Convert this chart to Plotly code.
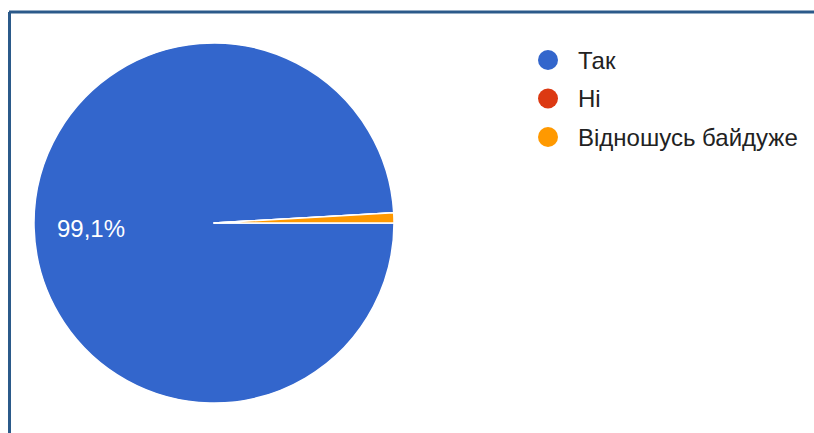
import plotly.graph_objects as go

# Survey answers
labels = ["Так", "Ні", "Відношусь байдуже"]
counts = [110, 0, 1]
colors = ["#3366cc", "#dc3912", "#ff9900"]

W, H = 814, 433
font_family = "Liberation Sans, Arial, sans-serif"

total = sum(counts)
main_pct = f"{counts[0] / total * 100:.1f}%".replace(".", ",")

fig = go.Figure()

fig.add_trace(go.Pie(
    labels=labels,
    values=counts,
    sort=False,
    direction="clockwise",
    rotation=90,
    marker=dict(colors=colors, line=dict(color="white", width=1.5)),
    textinfo="none",
    hoverinfo="label+percent",
    showlegend=False,
    domain=dict(x=[34 / W, 394 / W], y=[(H - 403) / H, (H - 43) / H]),
))

shapes = []
annotations = []

# Percentage label on the large slice
annotations.append(dict(
    x=91 / W, y=(H - 228) / H, xref="paper", yref="paper",
    text=main_pct, showarrow=False, xanchor="center", yanchor="middle",
    font=dict(size=24, color="white", family=font_family),
))

# Legend: coloured dots with labels
legend_x = 548
legend_y0 = 60
legend_step = 38.5
for i, (lab, col) in enumerate(zip(labels, colors)):
    cy = legend_y0 + i * legend_step
    r = 10
    shapes.append(dict(
        type="circle", xref="paper", yref="paper",
        x0=(legend_x - r) / W, x1=(legend_x + r) / W,
        y0=(H - cy - r) / H, y1=(H - cy + r) / H,
        fillcolor=col, line=dict(width=0),
    ))
    annotations.append(dict(
        x=576 / W, y=(H - cy) / H, xref="paper", yref="paper",
        text=lab, showarrow=False, xanchor="left", yanchor="middle",
        font=dict(size=24, color="#222222", family=font_family),
    ))

# Frame lines along the top and left
frame_color = "#2b5a8a"
shapes.append(dict(type="line", xref="paper", yref="paper",
                   x0=9 / W, x1=1, y0=(H - 12) / H, y1=(H - 12) / H,
                   line=dict(color=frame_color, width=3)))
shapes.append(dict(type="line", xref="paper", yref="paper",
                   x0=9.5 / W, x1=9.5 / W, y0=0, y1=(H - 12) / H,
                   line=dict(color=frame_color, width=3)))

fig.update_layout(
    width=W, height=H,
    margin=dict(l=0, r=0, t=0, b=0),
    paper_bgcolor="white",
    plot_bgcolor="white",
    separators=", ",
    shapes=shapes,
    annotations=annotations,
    font=dict(family=font_family),
)

fig.write_html("out.html")
